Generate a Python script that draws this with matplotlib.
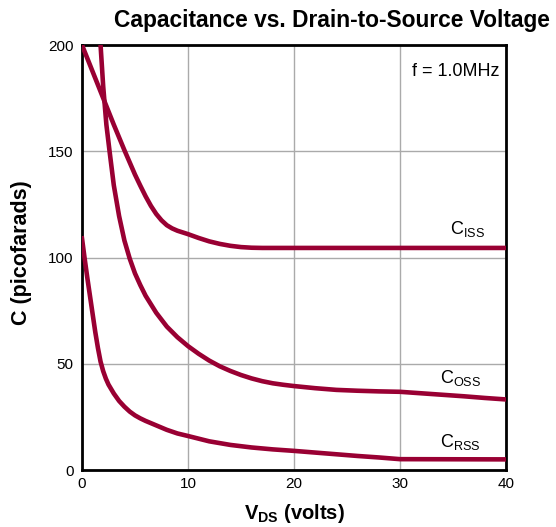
import matplotlib
matplotlib.use('Agg')
from matplotlib import pyplot as plt

plt.rcParams['font.family'] = ['Liberation Sans', 'DejaVu Sans']
plt.rcParams['mathtext.fontset'] = 'custom'
plt.rcParams['mathtext.rm'] = 'Liberation Sans'
plt.rcParams['mathtext.bf'] = 'Liberation Sans:bold'

# Curves (V_DS in volts, C in pF)
ciss_v = [0, 1, 2, 3, 4, 5, 5.5, 6, 6.5, 7, 7.5, 8, 8.5, 9, 10, 11, 12, 13, 14,
          15, 16, 17, 20, 30, 40]
ciss_c = [200, 187.5, 175, 162.5, 150.5, 139, 133.8, 128.8, 124.3, 120.5, 117.5, 115.2,
          113.7, 112.6, 111, 109.2, 107.6, 106.4, 105.5, 104.9, 104.6, 104.5, 104.5,
          104.5, 104.5]

coss_v = [1.75, 2.0, 2.3, 2.6, 3.0, 3.5, 4.0, 4.5, 5.0, 5.5, 6.0, 7.0, 8.0, 9.0, 10,
          11, 12, 13, 14, 15, 16, 17, 18, 19, 20, 22, 24, 26, 28, 30, 32, 34, 36, 38, 40]
coss_c = [200, 180.5, 162.5, 150, 134, 119.5, 108, 99.5, 92.5, 87, 82, 74, 67.5, 62.5,
          58.3, 54.7, 51.5, 48.8, 46.6, 44.7, 43.1, 41.8, 40.8, 40.1, 39.5, 38.5, 37.7,
          37.3, 37.0, 36.8, 36.1, 35.4, 34.7, 33.9, 33.2]

crss_v = [0, 0.25, 0.5, 0.75, 1.0, 1.25, 1.5, 1.75, 2, 2.25, 2.5, 3, 3.5, 4, 4.5, 5,
          5.5, 6, 7, 8, 9, 10, 12, 14, 16, 18, 20, 22, 24, 26, 28, 30, 40]
crss_c = [109, 99.5, 90.5, 82, 73.5, 65, 57.5, 51, 46.5, 43, 40.2, 36, 32.5, 29.8,
          27.5, 25.7, 24.3, 23.1, 21, 18.9, 17.2, 16, 13.5, 11.8, 10.6, 9.7, 9.0, 8.2,
          7.4, 6.6, 5.9, 5.1, 5.0]

xticks = [0, 10, 20, 30, 40]
yticks = [0, 50, 100, 150, 200]

red = '#990033'

fig = plt.figure(figsize=(5.56, 5.27), dpi=100)
ax = fig.add_axes([82 / 556, 1 - 470 / 527, 424 / 556, 425 / 527])

for v, c in [(ciss_v, ciss_c), (coss_v, coss_c), (crss_v, crss_c)]:
    ax.plot(v, c, color=red, lw=3.3, solid_joinstyle='round', zorder=3)

ax.set_xlim(0, 40)
ax.set_ylim(0, 200)
ax.set_xticks(xticks)
ax.set_yticks(yticks)
ax.tick_params(length=0, labelsize=11)
ax.tick_params(axis='y', pad=6)
ax.tick_params(axis='x', pad=5)
ax.grid(True, color='#aaaaaa', lw=1)
for s in ax.spines.values():
    s.set_linewidth(2)
    s.set_color('black')

# Curve labels
ax.text(34.7, 111, r'C$_{\mathrm{ISS}}$', fontsize=13, ha='left', va='baseline')
ax.text(33.8, 41, r'C$_{\mathrm{OSS}}$', fontsize=13, ha='left', va='baseline')
ax.text(33.8, 10.7, r'C$_{\mathrm{RSS}}$', fontsize=13, ha='left', va='baseline')
ax.text(39.4, 187.3, 'f = 1.0MHz', fontsize=13, ha='right', va='center')

ax.set_ylabel('C (picofarads)', fontsize=15.5, fontweight='bold')
ax.yaxis.set_label_coords(-0.117, 0.512)
ax.set_xlabel(r'$\mathbf{V_{DS}}$ (volts)', fontsize=14.5, fontweight='bold')
ax.xaxis.set_label_coords(0.5, -0.075)

fig.text(332 / 556, 1 - 21 / 527, 'Capacitance vs. Drain-to-Source Voltage',
         fontsize=16.4, fontweight='bold', ha='center', va='center')

plt.savefig('out.png', dpi=100)
plt.close()
